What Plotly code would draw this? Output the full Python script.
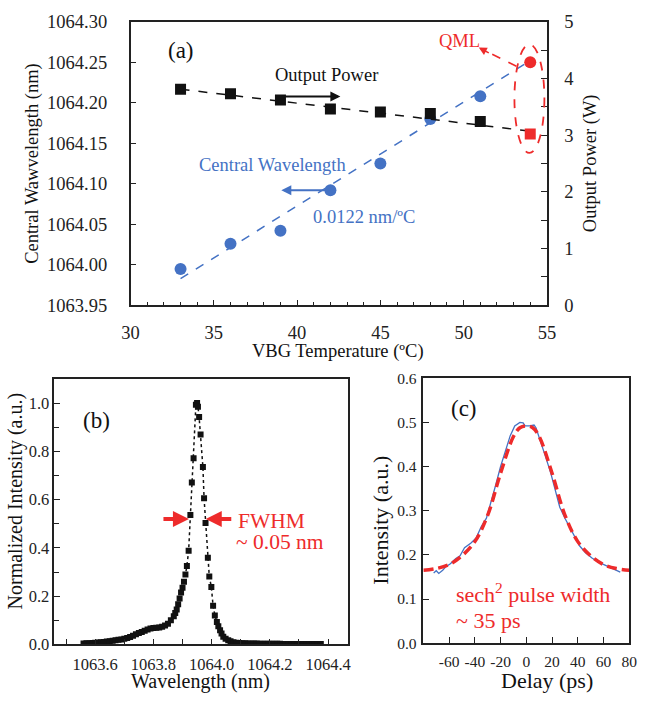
import plotly.graph_objects as go

W, H = 659, 704
def px(x): return x / W
def py(y): return 1 - y / H

FONT = "'Liberation Serif', 'Times New Roman', 'DejaVu Serif', serif"
BLUE = "#4472C4"
RED = "#ee2b2b"
BLACK = "#111111"
AX = "#222222"

# ---------------- Panel (a) data ----------------
vbg_temp = [33, 36, 39, 42, 45, 48, 51]
central_wl = [1063.995, 1064.026, 1064.042, 1064.092, 1064.125, 1064.180, 1064.208]
output_power = [3.81, 3.73, 3.62, 3.46, 3.41, 3.38, 3.24]
qml_temp = [54]
qml_wl = [1064.250]
qml_power = [3.02]
fit_temp = [33, 54]
fit_wl = [1063.983, 1064.252]
fit_power = [3.81, 3.07]

# ---------------- Panel (b) data ----------------
spec_wl = [1063.56, 1063.57, 1063.58, 1063.59, 1063.60, 1063.61, 1063.62, 1063.63, 1063.64, 1063.65,
           1063.66, 1063.67, 1063.68, 1063.69, 1063.70, 1063.71, 1063.72, 1063.73, 1063.74, 1063.75,
           1063.76, 1063.77, 1063.78, 1063.79, 1063.80, 1063.81, 1063.82, 1063.83, 1063.84, 1063.85,
           1063.86, 1063.87, 1063.875, 1063.88, 1063.885, 1063.89, 1063.895, 1063.90, 1063.905, 1063.91,
           1063.915, 1063.921, 1063.927, 1063.932, 1063.938, 1063.946, 1063.950, 1063.953, 1063.957, 1063.962,
           1063.970, 1063.974, 1063.979, 1063.987, 1063.992, 1063.999, 1064.005, 1064.011, 1064.018, 1064.023,
           1064.029, 1064.034, 1064.040, 1064.048, 1064.057, 1064.065, 1064.075, 1064.085, 1064.095, 1064.105,
           1064.115, 1064.125, 1064.135, 1064.145, 1064.155, 1064.165, 1064.175, 1064.185, 1064.195, 1064.205,
           1064.215, 1064.225, 1064.235, 1064.245, 1064.255, 1064.265, 1064.275, 1064.285, 1064.295, 1064.305,
           1064.315, 1064.325, 1064.335, 1064.345, 1064.355, 1064.365, 1064.375]
spec_int = [0.004, 0.005, 0.005, 0.006, 0.007, 0.008, 0.009, 0.010, 0.012, 0.013,
            0.015, 0.017, 0.019, 0.021, 0.024, 0.027, 0.031, 0.036, 0.042, 0.047,
            0.052, 0.057, 0.062, 0.066, 0.068, 0.069, 0.070, 0.073, 0.078, 0.086,
            0.100, 0.117, 0.130, 0.145, 0.167, 0.190, 0.215, 0.235, 0.260, 0.290,
            0.325, 0.388, 0.536, 0.671, 0.771, 0.993, 1.000, 0.985, 0.942, 0.870,
            0.735, 0.606, 0.503, 0.359, 0.281, 0.238, 0.160, 0.120, 0.093, 0.075,
            0.059, 0.045, 0.032, 0.024, 0.017, 0.013, 0.009, 0.007, 0.006, 0.005,
            0.005, 0.004, 0.004, 0.004, 0.004, 0.003, 0.003, 0.003, 0.003, 0.003,
            0.003, 0.003, 0.003, 0.002, 0.002, 0.002, 0.002, 0.002, 0.002, 0.002,
            0.002, 0.002, 0.002, 0.002, 0.002, 0.002, 0.002]

# ---------------- Panel (c) data ----------------
delay_ps = [-72, -70, -68, -65, -63, -59, -55, -51.5, -48, -43, -39, -35, -31, -28, -24, -20, -16, -12.5, -9, -5,
            -2.5, -1, 2.5, 6, 7.5, 11, 15, 19, 22.5, 26, 30, 34, 38, 41.5, 46, 51, 56.5, 61.5, 66.5, 73]
ac_int = [0.159, 0.164, 0.158, 0.165, 0.172, 0.180, 0.191, 0.198, 0.216, 0.227, 0.238, 0.264, 0.283, 0.312, 0.356,
          0.400, 0.437, 0.470, 0.492, 0.500, 0.499, 0.492, 0.492, 0.494, 0.488, 0.459, 0.422, 0.385, 0.349, 0.308,
          0.283, 0.260, 0.238, 0.220, 0.205, 0.193, 0.183, 0.176, 0.169, 0.161]
sech_delay = [-80, -70, -60, -50, -40, -30, -20, -10, -5, 0, 5, 10, 20, 30, 40, 50, 60, 70, 80]
sech_int = [0.165, 0.169, 0.178, 0.198, 0.230, 0.290, 0.385, 0.468, 0.488, 0.492, 0.488, 0.468, 0.385, 0.290,
            0.230, 0.198, 0.178, 0.169, 0.165]

a_xticks = [30, 35, 40, 45, 50, 55]
a_yticks = [1063.95, 1064.00, 1064.05, 1064.10, 1064.15, 1064.20, 1064.25, 1064.30]
c_xticks = [-60, -40, -20, 0, 20, 40, 60, 80]

fig = go.Figure()

# Panel (a)
fig.add_trace(go.Scatter(x=fit_temp, y=fit_power, mode="lines", xaxis="x", yaxis="y2",
                         line=dict(color=BLACK, width=1.5, dash="dash"), showlegend=False))
fig.add_trace(go.Scatter(x=fit_temp, y=fit_wl, mode="lines", xaxis="x", yaxis="y",
                         line=dict(color=BLUE, width=1.5, dash="dash"), showlegend=False))
fig.add_trace(go.Scatter(x=vbg_temp, y=central_wl, mode="markers", xaxis="x", yaxis="y",
                         marker=dict(symbol="circle", size=12, color=BLUE), showlegend=False))
fig.add_trace(go.Scatter(x=qml_temp, y=qml_wl, mode="markers", xaxis="x", yaxis="y",
                         marker=dict(symbol="circle", size=12, color=RED), showlegend=False))
fig.add_trace(go.Scatter(x=vbg_temp, y=output_power, mode="markers", xaxis="x", yaxis="y2",
                         marker=dict(symbol="square", size=11, color=BLACK), showlegend=False))
fig.add_trace(go.Scatter(x=qml_temp, y=qml_power, mode="markers", xaxis="x", yaxis="y2",
                         marker=dict(symbol="square", size=11, color=RED), showlegend=False))

# Panel (b)
fig.add_trace(go.Scatter(x=spec_wl, y=spec_int, mode="lines+markers", xaxis="x2", yaxis="y3",
                         line=dict(color=BLACK, width=1.5, dash="dot"),
                         marker=dict(symbol="square", size=6, color=BLACK), showlegend=False))

# Panel (c)
fig.add_trace(go.Scatter(x=delay_ps, y=ac_int, mode="lines", xaxis="x3", yaxis="y4",
                         line=dict(color=BLUE, width=1.3), showlegend=False))
fig.add_trace(go.Scatter(x=sech_delay, y=sech_int, mode="lines", xaxis="x3", yaxis="y4",
                         line=dict(color=RED, width=3.5, dash="10px,5px", shape="spline"), showlegend=False))

def axis_common(size, ticklen=6):
    return dict(showgrid=False, zeroline=False, showline=True, linecolor=AX, linewidth=1.5,
                ticks="inside", tickcolor=AX, tickwidth=1.3, ticklen=ticklen,
                tickfont=dict(family=FONT, size=size, color=AX))

layout = dict(
    width=W, height=H, margin=dict(l=0, r=0, t=0, b=0),
    paper_bgcolor="white", plot_bgcolor="white", showlegend=False,
    font=dict(family=FONT),
    xaxis=dict(**axis_common(18.5), domain=[px(125), px(553)], range=[30, 55], anchor="y",
               tickmode="array", tickvals=a_xticks, mirror=True,
               minor=dict(dtick=1, ticks="inside", ticklen=4, tickcolor=AX), ticklabelstandoff=10),
    yaxis=dict(**axis_common(18.5), domain=[py(304), py(12)], range=[1063.95, 1064.30], anchor="x",
               tickmode="array", tickvals=a_yticks, ticktext=["%.2f" % v for v in a_yticks],
               ticklabelstandoff=18),
    yaxis2=dict(**axis_common(18.5), range=[0, 5], overlaying="y", side="right", anchor="x",
                tickmode="linear", tick0=0, dtick=1,
                minor=dict(dtick=0.5, ticks="inside", ticklen=6, tickcolor=AX), ticklabelstandoff=12),
    xaxis2=dict(**axis_common(16.5), domain=[px(46.7), px(349)], range=[1063.46, 1064.47], anchor="y3",
                tickmode="linear", tick0=1063.6, dtick=0.2, tickformat=".1f", mirror=True,
                minor=dict(dtick=0.1, ticks="inside", ticklen=6, tickcolor=AX),
                ticklabelstandoff=4),
    yaxis3=dict(**axis_common(16.5), domain=[py(653), py(379.7)], range=[0, 1.1], anchor="x2",
                tickmode="linear", tick0=0, dtick=0.2, tickformat=".1f", mirror=True,
                minor=dict(dtick=0.1, ticks="inside", ticklen=5, tickcolor=AX), ticklabelstandoff=0),
    xaxis3=dict(**axis_common(15.5), domain=[px(426), px(637.7)], range=[-80, 80], anchor="y4",
                tickmode="array", tickvals=c_xticks, ticktext=[str(v) for v in c_xticks], mirror=True,
                ticklabelstandoff=3),
    yaxis4=dict(**axis_common(15.5), domain=[py(651.7), py(379)], range=[0, 0.6], anchor="x3",
                tickmode="linear", tick0=0, dtick=0.1, tickformat=".1f", mirror=True,
                ticklabelstandoff=2),
)
fig.update_layout(**layout)

def txt(x, y, s, size, color=BLACK, angle=0, xanchor="center"):
    return dict(x=px(x), y=py(y), xref="paper", yref="paper", text=s, showarrow=False,
                font=dict(family=FONT, size=size, color=color), textangle=angle,
                xanchor=xanchor, yanchor="middle")

ann = [
    txt(177, 42, "(a)", 23),
    txt(326, 67, "Output Power", 18.5),
    txt(271, 160, "Central Wavelength", 18.5, BLUE),
    txt(365, 212.7, "0.0122 nm/ºC", 18.5, BLUE),
    txt(463, 31.7, "QML", 18.5, RED),
    txt(338, 351.7, "VBG Temperature (ºC)", 18.5),
    txt(24, 158, "Central Wawvelength (nm)", 18.5, angle=-90),
    txt(598, 158, "Output Power (W)", 18.5, angle=-90),
    txt(90, 423, "(b)", 23),
    txt(233, 525.5, "FWHM", 21.5, RED, xanchor="left"),
    txt(231, 547.5, "~ 0.05 nm", 21.5, RED, xanchor="left"),
    txt(196.7, 691, "Wavelength (nm)", 20),
    txt(7, 505, "Normalized Intensity (a.u.)", 20, angle=-90),
    txt(468, 410, "(c)", 23),
    txt(457, 600, "sech<sup>2</sup> pulse width", 22, RED, xanchor="left"),
    txt(457, 628, "~ 35 ps", 22, RED, xanchor="left"),
    txt(553, 690, "Delay (ps)", 22),
    txt(382, 525, "Intensity (a.u.)", 22, angle=-90),
    # arrows panel (a)
    dict(x=42.6, y=3.68, xref="x", yref="y2", ax=39, ay=3.68, axref="x", ayref="y2", text="",
         showarrow=True, arrowhead=2, arrowsize=1, arrowwidth=2, arrowcolor=BLACK),
    dict(x=39.05, y=1064.092, xref="x", yref="y", ax=42, ay=1064.092, axref="x", ayref="y", text="",
         showarrow=True, arrowhead=2, arrowsize=1, arrowwidth=2, arrowcolor=BLUE),
    dict(x=50.91, y=1064.268, xref="x", yref="y", ax=51.6, ay=1064.2605, axref="x", ayref="y", text="",
         showarrow=True, arrowhead=2, arrowsize=1, arrowwidth=1.6, arrowcolor=RED),
    # FWHM arrows panel (b)
    dict(x=px(185), y=py(524), xref="paper", yref="paper", ax=-27, ay=0, text="",
         showarrow=True, arrowhead=2, arrowsize=0.8, arrowwidth=4, arrowcolor=RED),
    dict(x=px(202.3), y=py(524), xref="paper", yref="paper", ax=27, ay=0, text="",
         showarrow=True, arrowhead=2, arrowsize=0.8, arrowwidth=4, arrowcolor=RED),
]
fig.update_layout(annotations=ann)

fig.update_layout(shapes=[
    dict(type="circle", xref="x", yref="y", x0=53.05, x1=54.85, y0=1064.138, y1=1064.272,
         line=dict(color=RED, width=1.8, dash="dash")),
    dict(type="line", xref="x", yref="y", x0=53.17, y0=1064.245, x1=51.5, y1=1064.262,
         line=dict(color=RED, width=1.6, dash="dash")),
])

fig.write_html("out.html")
